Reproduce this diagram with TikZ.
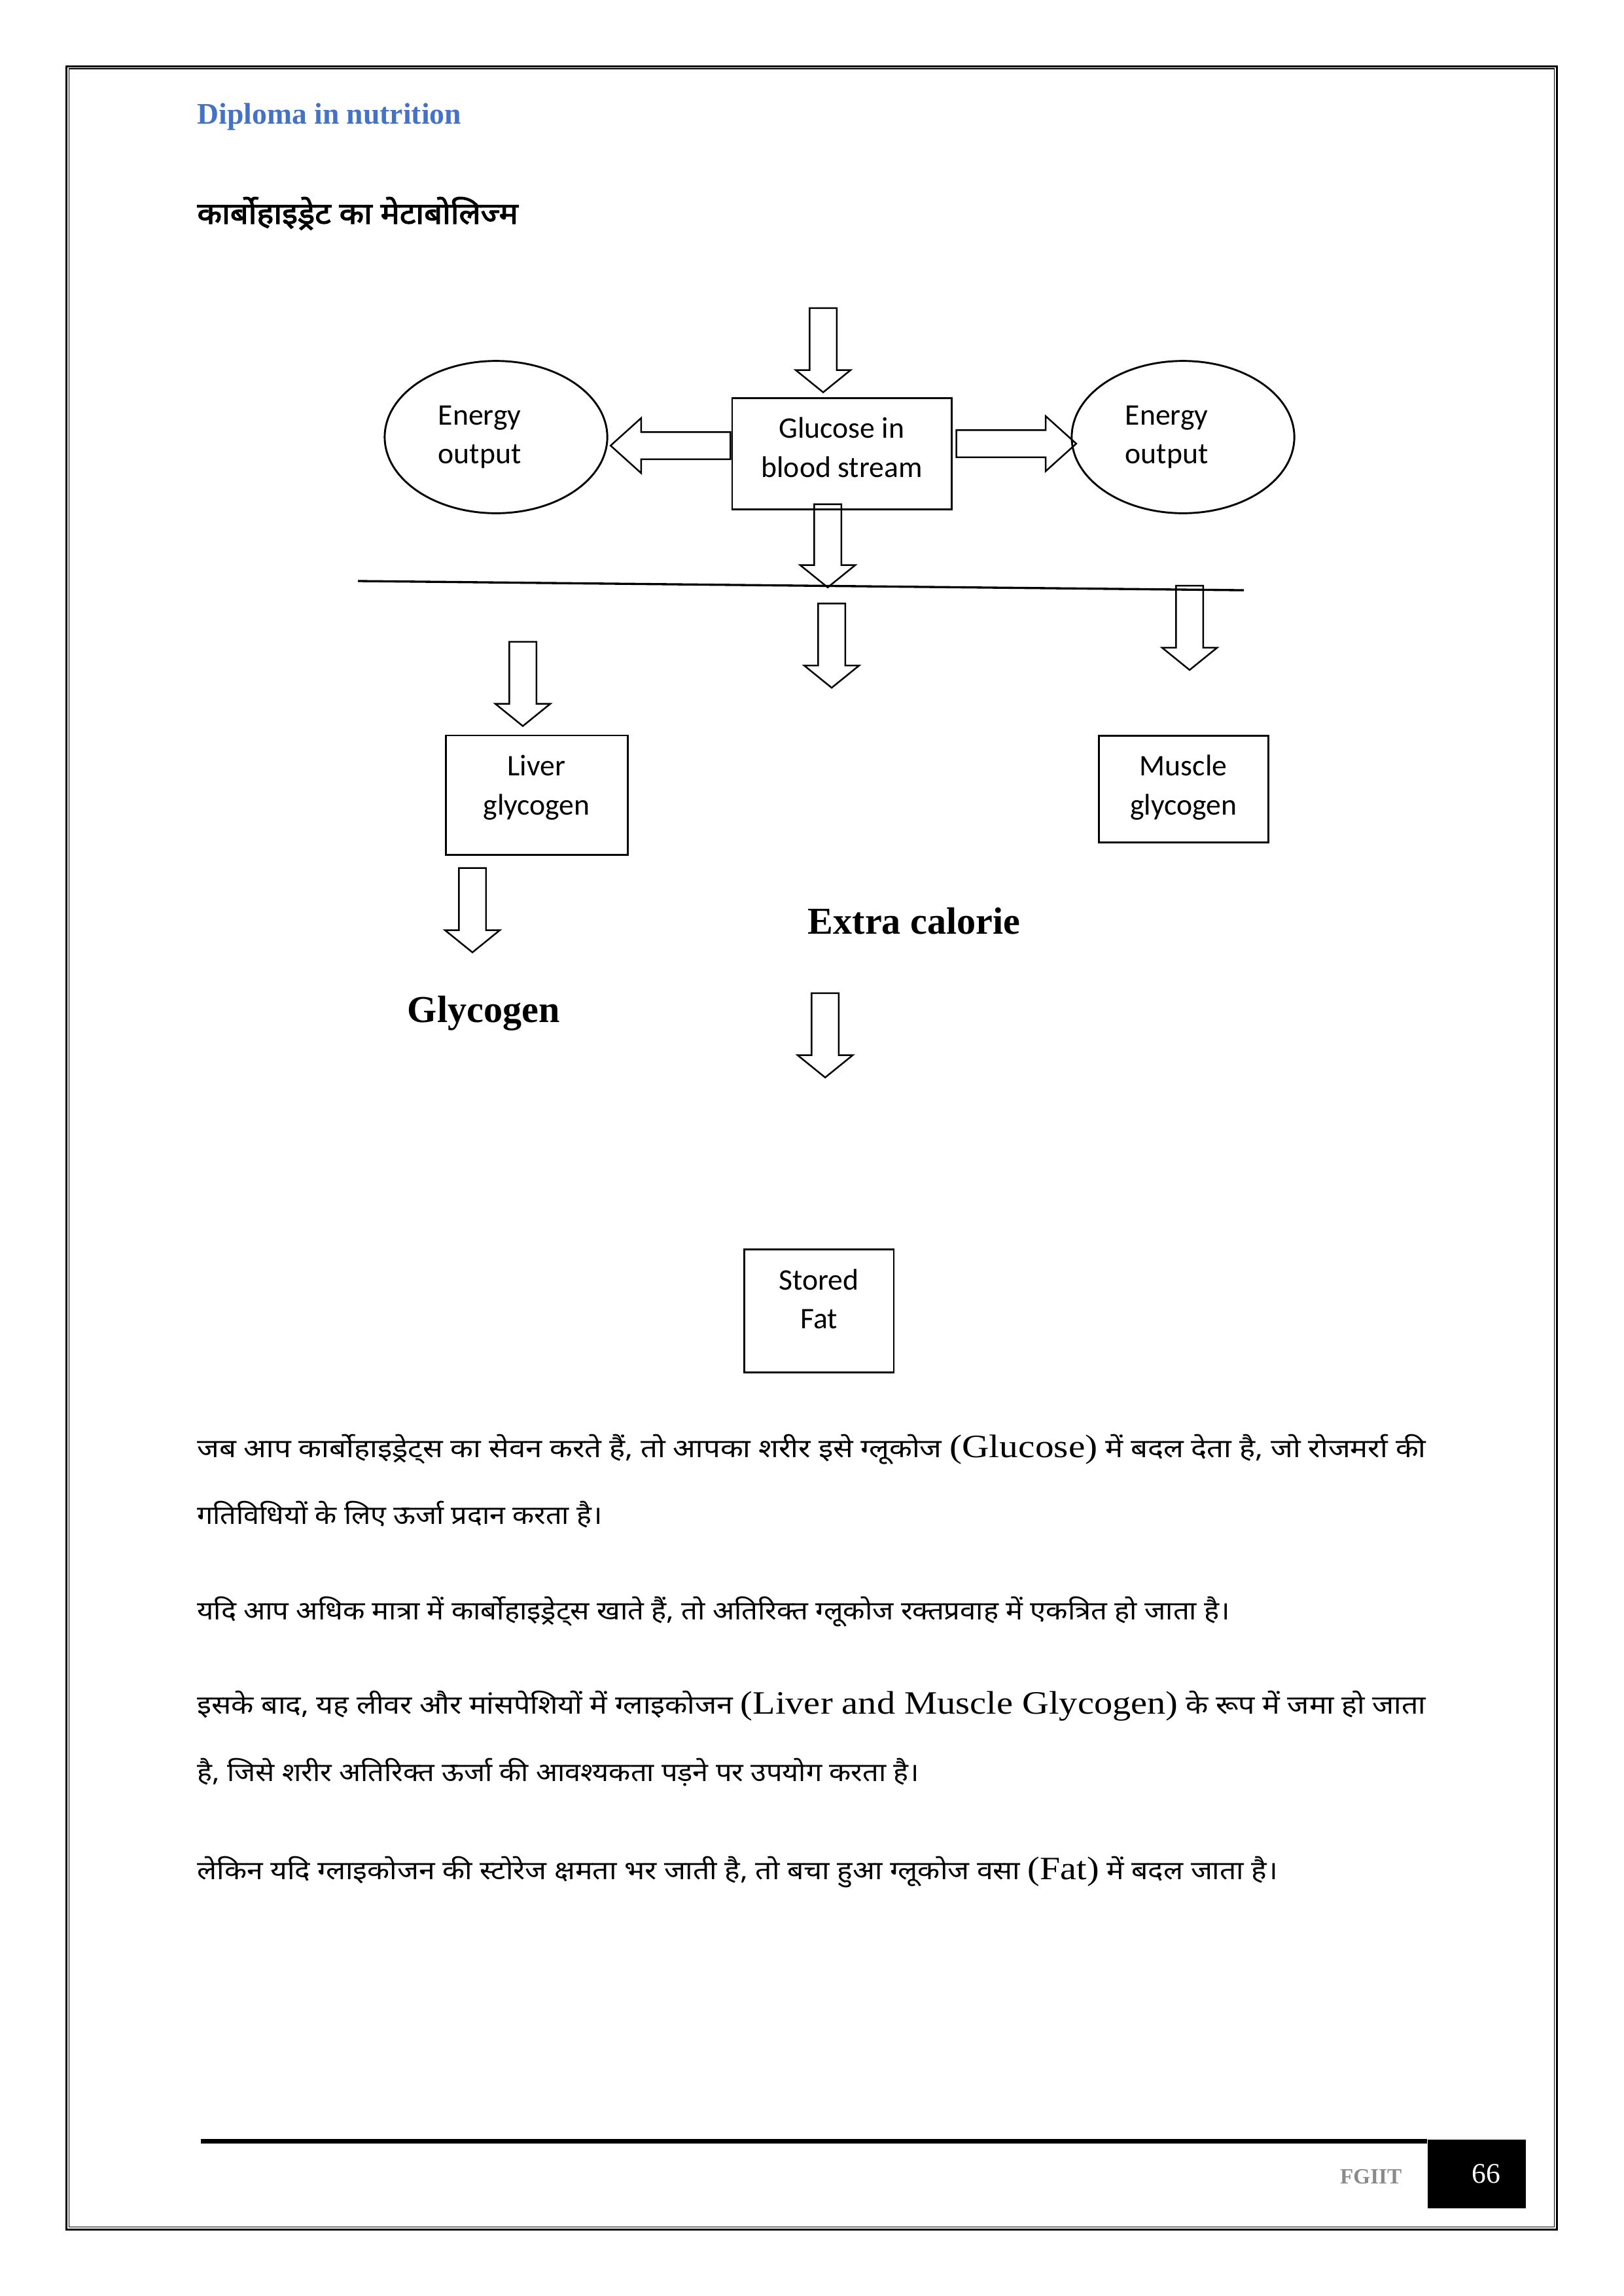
\documentclass[tikz,border=0pt]{standalone}
\usepackage{fontspec}
\setmainfont{Liberation Serif}
\newfontfamily\hindi[Script=Devanagari]{Noto Sans}
\newfontfamily\hindiheavy[Script=Devanagari,FakeBold=2.5]{Noto Sans}
\newfontfamily\calibri{Carlito}
\usetikzlibrary{shapes,fit,calc}
\definecolor{titleblue}{RGB}{68,114,196}
\definecolor{footgray}{RGB}{138,138,138}

\begin{document}
\begin{tikzpicture}
    \tikzstyle{title} = [
      anchor=base west,
      inner sep=0pt,
    ]
    \tikzstyle{box} = [
      draw=black,
      line width=0.7pt,
    ]
    \tikzstyle{boxtext} = [
      align=center,
      inner sep=0pt,
      font=\calibri\fontsize{11}{14.4}\selectfont,
    ]
    \tikzstyle{oval} = [
      box,
      ellipse,
      minimum width=28.8mm,
      minimum height=19.7mm,
    ]
    \tikzstyle{flow} = [
      single arrow,
      draw=black,
      line width=0.6pt,
      inner xsep=0pt,
      inner ysep=1.65mm,
      single arrow head extend=1.8mm,
      single arrow tip angle=102,
      anchor=tail,
      minimum height=\arrowlength,
    ]
    \tikzstyle{downflow} = [
      flow,
      rotate=-90,
    ]
    \tikzstyle{sideflow} = [
      flow,
      single arrow tip angle=84,
      minimum height=\sidelength,
    ]
    \tikzstyle{divider} = [
      line width=0.8pt,
      draw=black,
    ]
    \tikzstyle{bigword} = [
      title,
      font=\bfseries\fontsize{14}{17}\selectfont,
    ]
    \tikzstyle{para} = [
      title,
      font=\hindi\fontsize{9.5}{12}\selectfont,
    ]

    \newcommand{\arrowlength}[0]{10.9mm}
    \newcommand{\sidelength}[0]{15.5mm}
    \newcommand{\textedge}[0]{25.45mm}
    \newcommand{\fullline}[0]{158.96mm}
    \newcommand{\latin}[1]{{\rmfamily\fontsize{12}{12}\selectfont #1}}

    \useasboundingbox (0,0) rectangle (210mm,-297mm);

    % page border
    {
      \draw[line width=0.72pt] (8.55mm,-8.55mm) rectangle (201.41mm,-288.42mm);
      \draw[line width=0.36pt] (8.93mm,-8.89mm) rectangle (201.07mm,-288.08mm);
    }

    % headings
    {
      \node[title, text=titleblue, font=\bfseries\fontsize{11}{13}\selectfont] (course) at (\textedge,-16.08mm) {Diploma in nutrition};
      \node[title, font=\hindiheavy\fontsize{11}{13}\selectfont] (topic) at (\textedge,-28.95mm) {\resizebox{41.5mm}{\height}{कार्बोहाइड्रेट का मेटाबोलिज्म}};
    }

    \coordinate (glucoseAnchor) at (108.89mm,-58.66mm);

    % glucose in blood stream
    {
      \node[box, minimum width=28.36mm, minimum height=14.39mm] (glucose) at (glucoseAnchor) {};
      \node[boxtext] (glucoseText) at ([yshift=0.76mm] glucose.center) {Glucose in\\blood stream};
      \node[downflow] (intake) at ([xshift=-2.41mm, yshift=11.6mm] glucose.north) {};
    }

    % energy output
    {
      \node[oval] (leftEnergy)  at ([xshift=-44.73mm, yshift=2.12mm] glucose.center) {};
      \node[oval] (rightEnergy) at ([xshift=44.14mm, yshift=2.12mm] glucose.center) {};
      \node[boxtext, align=left] (leftEnergyText)  at ([xshift=-2.1mm] leftEnergy.center) {Energy\\output};
      \node[boxtext, align=left] (rightEnergyText) at ([xshift=-2.1mm] rightEnergy.center) {Energy\\output};
      \node[sideflow, rotate=180] (leftOut)  at ([yshift=1.02mm] glucose.west) {};
      \node[sideflow] (rightOut) at ([xshift=0.42mm, yshift=1.27mm] glucose.east) {};
    }

    % blood stream line
    {
      \node[downflow, minimum height=10.75mm] (bloodOut) at ([xshift=-1.82mm, yshift=0.85mm] glucose.south) {};
      \coordinate (lineWest) at (46.30mm,-75.16mm);
      \coordinate (lineEast) at (160.91mm,-76.35mm);
      \draw[divider] (lineWest) -- (lineEast);
    }

    % glycogen stores
    {
      \node[box, minimum width=23.53mm, minimum height=15.41mm] (liver)  at (69.41mm,-102.84mm) {};
      \node[box, minimum width=21.92mm, minimum height=13.80mm] (muscle) at (153.08mm,-102.04mm) {};
      \node[boxtext] (liverText)  at ([yshift=0.95mm] liver.center) {Liver\\glycogen};
      \node[boxtext] (muscleText) at ([yshift=0.2mm] muscle.center) {Muscle\\glycogen};
      \node[downflow] (liverIn)  at ([xshift=-1.78mm, yshift=12.1mm] liver.north) {};
      \node[downflow] (muscleIn) at ([xshift=0.80mm, yshift=19.36mm] muscle.north) {};
      \node[downflow] (liverOut) at ([xshift=-8.30mm, yshift=-1.52mm] liver.south) {};
      \node[bigword] (glycogenWord) at (52.65mm,-132.21mm) {Glycogen};
    }

    % extra calorie
    {
      \node[downflow] (calorieIn) at (107.58mm,-77.96mm) {};
      \node[bigword] (calorieWord) at (104.45mm,-120.79mm) {Extra calorie};
      \node[box, minimum width=19.38mm, minimum height=15.91mm] (fat) at (105.93mm,-169.54mm) {};
      \node[boxtext] (fatText) at ([yshift=1.5mm] fat.center) {Stored\\Fat};
      \node[downflow] (fatIn) at ([xshift=0.81mm, yshift=33.09mm] fat.north) {};
    }

    % text
    {
      \node[para] (lineI)   at (\textedge,-188.50mm) {\resizebox{\fullline}{\height}{जब आप कार्बोहाइड्रेट्स का सेवन करते हैं, तो आपका शरीर इसे ग्लूकोज \latin{(Glucose)} में बदल देता है, जो रोजमर्रा की}};
      \node[para] (lineII)  at (\textedge,-197.13mm) {\resizebox{52.4mm}{\height}{गतिविधियों के लिए ऊर्जा प्रदान करता है।}};
      \node[para] (lineIII) at (\textedge,-209.49mm) {\resizebox{133.6mm}{\height}{यदि आप अधिक मात्रा में कार्बोहाइड्रेट्स खाते हैं, तो अतिरिक्त ग्लूकोज रक्तप्रवाह में एकत्रित हो जाता है।}};
      \node[para] (lineIV)  at (\textedge,-221.68mm) {\resizebox{\fullline}{\height}{इसके बाद, यह लीवर और मांसपेशियों में ग्लाइकोजन \latin{(Liver and Muscle Glycogen)} के रूप में जमा हो जाता}};
      \node[para] (lineV)   at (\textedge,-230.40mm) {\resizebox{93.4mm}{\height}{है, जिसे शरीर अतिरिक्त ऊर्जा की आवश्यकता पड़ने पर उपयोग करता है।}};
      \node[para] (lineVI)  at (\textedge,-243.09mm) {\resizebox{139.8mm}{\height}{लेकिन यदि ग्लाइकोजन की स्टोरेज क्षमता भर जाती है, तो बचा हुआ ग्लूकोज वसा \latin{(Fat)} में बदल जाता है।}};
    }

    % footer
    {
      \node[fill=black, inner sep=0pt, minimum width=12.69mm, minimum height=8.89mm, anchor=north west] (pageBox) at (184.61mm,-276.70mm) {};
      \node[text=white, font=\fontsize{10.5}{12}\selectfont] (pageNo) at ([xshift=1.2mm] pageBox.center) {66};
      \coordinate (footWest) at (25.98mm,-276.99mm);
      \draw[line width=0.59mm] (footWest) -- (footWest -| pageBox.west);
      \node[title, anchor=base east, text=footgray, font=\bfseries\fontsize{8}{8}\selectfont] (school) at (181.39mm,-282.45mm) {FGIIT};
    }
\end{tikzpicture}
\end{document}
